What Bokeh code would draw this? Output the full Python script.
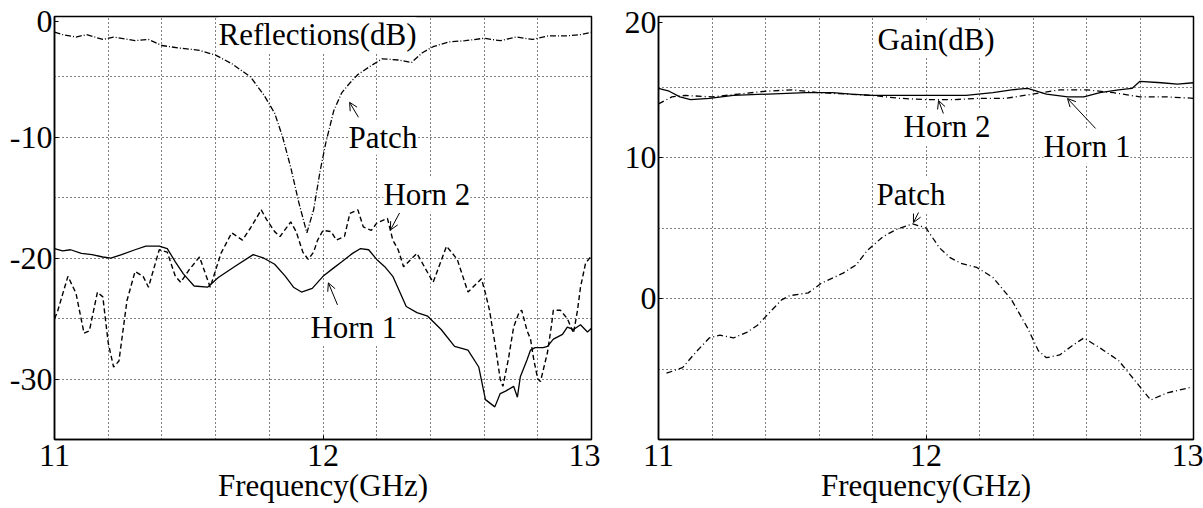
from bokeh.plotting import figure
from bokeh.layouts import row
from bokeh.models import FixedTicker, Label, Arrow, OpenHead
from bokeh.embed import file_html
from bokeh.resources import INLINE

# ---------------- data: reflections (left panel) ----------------
patch_ref_f = [11.00, 11.03, 11.08, 11.12, 11.18, 11.22, 11.30, 11.35, 11.40, 11.46, 11.54,
               11.60, 11.66, 11.73, 11.78, 11.82, 11.85, 11.88, 11.91, 11.94, 11.965, 11.99,
               12.01, 12.04, 12.07, 12.10, 12.13, 12.17, 12.22, 12.28, 12.33, 12.37, 12.41,
               12.47, 12.53, 12.60, 12.66, 12.72, 12.78, 12.84, 12.91, 12.96, 13.00]
patch_ref_db = [-1.3, -1.5, -1.7, -1.5, -1.9, -1.7, -2.0, -1.9, -2.4, -2.6, -2.8,
                -3.2, -3.9, -5.0, -6.5, -8.0, -10.0, -12.5, -15.4, -17.9, -16.0, -12.7,
                -10.5, -7.8, -6.3, -5.5, -4.8, -4.2, -3.5, -3.6, -3.8, -3.0, -2.5,
                -2.1, -2.0, -1.8, -2.0, -1.7, -1.9, -1.6, -1.6, -1.5, -1.3]

horn1_ref_f = [11.00, 11.03, 11.06, 11.10, 11.14, 11.18, 11.21, 11.25, 11.30, 11.34, 11.39,
               11.42, 11.45, 11.48, 11.52, 11.57, 11.61, 11.67, 11.74, 11.78, 11.82, 11.86,
               11.89, 11.92, 11.96, 12.00, 12.04, 12.07, 12.11, 12.14, 12.17, 12.20, 12.23,
               12.26, 12.31, 12.35, 12.39, 12.44, 12.49, 12.54, 12.58, 12.605, 12.64, 12.66,
               12.68, 12.71, 12.724, 12.735, 12.76, 12.773, 12.79, 12.82, 12.836, 12.858,
               12.892, 12.91, 12.933, 12.959, 12.985, 13.00]
horn1_ref_db = [-19.2, -19.4, -19.3, -19.6, -19.7, -19.9, -20.0, -19.7, -19.3, -19.0, -19.0,
                -19.2, -20.3, -21.3, -22.3, -22.4, -21.6, -20.7, -19.7, -20.0, -20.5, -21.5,
                -22.4, -22.8, -22.5, -21.5, -20.8, -20.3, -19.6, -19.2, -19.3, -20.1, -20.7,
                -21.5, -24.0, -24.5, -24.8, -25.9, -27.3, -27.6, -29.0, -31.7, -32.3, -31.2,
                -31.0, -30.6, -31.5, -29.8, -28.4, -27.6, -27.4, -27.4, -27.3, -26.7,
                -26.3, -25.7, -25.9, -25.5, -26.1, -25.8]

horn2_ref_f = [11.00, 11.01, 11.05, 11.08, 11.11, 11.13, 11.16, 11.18, 11.20, 11.22, 11.24,
               11.27, 11.30, 11.33, 11.35, 11.39, 11.42, 11.45, 11.47, 11.50, 11.54, 11.58,
               11.62, 11.66, 11.70, 11.73, 11.77, 11.79, 11.82, 11.84, 11.88, 11.90, 11.925,
               11.945, 11.965, 11.98, 12.00, 12.03, 12.05, 12.08, 12.10, 12.13, 12.15, 12.18,
               12.20, 12.24, 12.26, 12.28, 12.30, 12.35, 12.41, 12.46, 12.50, 12.54, 12.59,
               12.605, 12.62, 12.64, 12.66, 12.67, 12.69, 12.71, 12.73, 12.74, 12.76, 12.773,
               12.785, 12.80, 12.81, 12.836, 12.85, 12.858, 12.884, 12.91, 12.933, 12.948,
               12.959, 12.978, 13.00]
horn2_ref_db = [-25.0, -24.5, -21.5, -22.9, -26.2, -26.0, -22.8, -23.2, -27.0, -29.0, -28.5,
                -23.5, -21.1, -21.5, -22.4, -19.3, -19.5, -21.5, -22.0, -21.0, -19.9, -22.4,
                -19.6, -17.9, -18.5, -17.5, -16.0, -16.8, -17.8, -18.2, -17.0, -17.8, -19.5,
                -20.1, -19.5, -18.5, -17.7, -17.8, -18.5, -18.2, -16.3, -16.0, -17.4, -17.7,
                -17.1, -16.7, -18.5, -19.3, -20.7, -19.6, -22.0, -19.0, -20.1, -22.8, -21.7,
                -22.9, -24.3, -27.0, -30.0, -30.6, -28.4, -25.7, -24.5, -24.3, -26.0, -26.7,
                -28.4, -30.0, -30.2, -27.8, -25.7, -24.3, -24.3, -25.0, -26.2, -24.3,
                -22.4, -20.4, -19.8]

# ---------------- data: gain (right panel) ----------------
horn1_gain_f = [11.00, 11.04, 11.08, 11.12, 11.19, 11.28, 11.41, 11.55, 11.65, 11.72, 11.80,
                11.91, 12.05, 12.15, 12.25, 12.32, 12.38, 12.45, 12.53, 12.59, 12.65, 12.72,
                12.77, 12.80, 12.88, 12.94, 13.00]
horn1_gain_db = [14.9, 14.7, 14.3, 14.1, 14.2, 14.4, 14.5, 14.6, 14.6, 14.5, 14.4,
                 14.4, 14.4, 14.4, 14.6, 14.8, 14.9, 14.5, 14.3, 14.3, 14.6, 14.8,
                 14.9, 15.4, 15.3, 15.2, 15.3]

horn2_gain_f = [11.00, 11.05, 11.10, 11.20, 11.30, 11.40, 11.50, 11.60, 11.70, 11.80, 11.90,
                12.00, 12.10, 12.20, 12.30, 12.40, 12.50, 12.60, 12.70, 12.80, 12.90, 13.00]
horn2_gain_db = [13.8, 14.3, 14.4, 14.3, 14.5, 14.7, 14.8, 14.6, 14.5, 14.4, 14.2,
                 14.1, 14.1, 14.2, 14.2, 14.5, 14.8, 14.8, 14.6, 14.3, 14.3, 14.2]

patch_gain_f = [11.03, 11.09, 11.14, 11.19, 11.23, 11.28, 11.33, 11.37, 11.40, 11.46, 11.49,
                11.56, 11.61, 11.69, 11.74, 11.78, 11.84, 11.89, 11.95, 12.00, 12.05, 12.09,
                12.13, 12.19, 12.25, 12.32, 12.38, 12.42, 12.45, 12.50, 12.55, 12.59, 12.65,
                12.72, 12.78, 12.84, 12.90, 12.99]
patch_gain_db = [-5.3, -4.9, -3.8, -2.8, -2.6, -2.8, -2.4, -1.9, -1.3, -0.1, 0.2,
                 0.4, 1.1, 1.8, 2.4, 3.4, 4.4, 4.9, 5.3, 5.0, 3.6, 2.9,
                 2.5, 2.2, 1.5, -0.1, -2.1, -3.7, -4.2, -4.0, -3.3, -2.8, -3.5,
                 -4.4, -5.8, -7.2, -6.7, -6.3]

# ---------------- ticks ----------------
x_ticks = [11, 12, 13]
x_tick_labels = ["11", "12", "13"]
x_grid = [11.2, 11.4, 11.6, 11.8, 12.0, 12.2, 12.4, 12.6, 12.8]
ref_ticks = [0, -10, -20, -30]
ref_tick_labels = ["0", "-10", "-20", "-30"]
ref_grid = [-5, -10, -15, -20, -25, -30]
gain_ticks = [20, 10, 0]
gain_tick_labels = ["20", "10", "0"]
gain_grid = [15, 10, 5, 0, -5]
x_title = "Frequency(GHz)"

FONT = "Liberation Serif"
TICK_FS = "32px"
FS = "31px"


def style(p, yticks, ylabels, ygrid, top_nudge):
    p.outline_line_color = "black"
    p.outline_line_width = 1.5
    p.background_fill_color = "white"
    p.border_fill_color = "white"
    for ax in (p.xaxis[0], p.yaxis[0]):
        ax.axis_line_color = "black"
        ax.axis_line_width = 1.5
        ax.major_tick_line_color = "black"
        ax.major_tick_in = 4
        ax.major_tick_out = 0
        ax.minor_tick_in = 0
        ax.minor_tick_out = 0
        ax.major_label_text_font = FONT
        ax.major_label_text_font_size = TICK_FS
        ax.major_label_text_color = "black"
    p.xaxis.ticker = FixedTicker(ticks=x_ticks)
    p.xaxis.major_label_overrides = {t: l for t, l in zip(x_ticks, x_tick_labels)}
    p.xaxis.major_label_standoff = 5
    p.xaxis.axis_label = x_title
    p.xaxis.axis_label_text_font = FONT
    p.xaxis.axis_label_text_font_size = FS
    p.xaxis.axis_label_text_font_style = "normal"
    p.xaxis.axis_label_text_color = "black"
    p.xaxis.axis_label_standoff = -1
    # the top label sits a few pixels below the frame's top edge, as in the reference
    label_pos = [yticks[0] - top_nudge] + list(yticks[1:])
    p.yaxis.ticker = FixedTicker(ticks=label_pos)
    p.yaxis.major_label_overrides = {t: l for t, l in zip(label_pos, ylabels)}
    p.yaxis.major_label_standoff = 2
    p.xgrid.ticker = FixedTicker(ticks=x_grid)
    p.ygrid.ticker = FixedTicker(ticks=ygrid)
    for g in (p.xgrid[0], p.ygrid[0]):
        g.grid_line_color = "black"
        g.grid_line_dash = "1 3"
        g.grid_line_width = 1


def add_label(p, text, x, y):
    p.add_layout(Label(x=x, y=y, text=text, text_font=FONT, text_font_size=FS,
                       text_color="black", text_align="left", text_baseline="alphabetic",
                       background_fill_color="white", background_fill_alpha=1.0))


def add_arrow(p, x0, y0, x1, y1):
    p.add_layout(Arrow(end=OpenHead(size=8, line_width=1, line_color="black"),
                       x_start=x0, y_start=y0, x_end=x1, y_end=y1,
                       line_width=1, line_color="black"))


# ---------------- left panel ----------------
p1 = figure(width=600, height=508, x_range=(11, 13), y_range=(-35, 0),
            output_backend="svg", toolbar_location=None,
            min_border_left=54, min_border_right=9, min_border_top=16, min_border_bottom=68)
style(p1, ref_ticks, ref_tick_labels, ref_grid, 0.45)
p1.line(patch_ref_f, patch_ref_db, line_color="black", line_width=1.3, line_dash="6 2 1 2")
p1.line(horn2_ref_f, horn2_ref_db, line_color="black", line_width=1.4, line_dash="5 3")
p1.line(horn1_ref_f, horn1_ref_db, line_color="black", line_width=1.3)
add_label(p1, "Reflections(dB)", 11.611, -1.5)
add_label(p1, "Patch", 12.095, -10.0)
add_label(p1, "Horn 2", 12.225, -14.7)
add_label(p1, "Horn 1", 11.953, -25.7)
add_arrow(p1, 12.132, -8.34, 12.099, -7.1)
add_arrow(p1, 12.285, -16.26, 12.251, -17.67)
add_arrow(p1, 12.054, -23.86, 12.020, -22.04)

# ---------------- right panel ----------------
p2 = figure(width=603, height=508, x_range=(11, 13), y_range=(-10, 20),
            output_backend="svg", toolbar_location=None,
            min_border_left=58, min_border_right=10, min_border_top=16, min_border_bottom=69)
style(p2, gain_ticks, gain_tick_labels, gain_grid, 0.4)
p2.line(patch_gain_f, patch_gain_db, line_color="black", line_width=1.3, line_dash="6 3 1 3")
p2.line(horn2_gain_f, horn2_gain_db, line_color="black", line_width=1.3, line_dash="6 3 1 3")
p2.line(horn1_gain_f, horn1_gain_db, line_color="black", line_width=1.3)
add_label(p2, "Gain(dB)", 11.819, 18.35)
add_label(p2, "Horn 2", 11.916, 12.2)
add_label(p2, "Horn 1", 12.439, 10.8)
add_label(p2, "Patch", 11.815, 7.35)
add_arrow(p2, 12.065, 13.12, 12.047, 14.04)
add_arrow(p2, 12.634, 12.06, 12.529, 14.18)
add_arrow(p2, 11.972, 6.1, 11.953, 5.39)

layout = row(p1, p2)
open("out.html", "w").write(file_html(layout, INLINE))
